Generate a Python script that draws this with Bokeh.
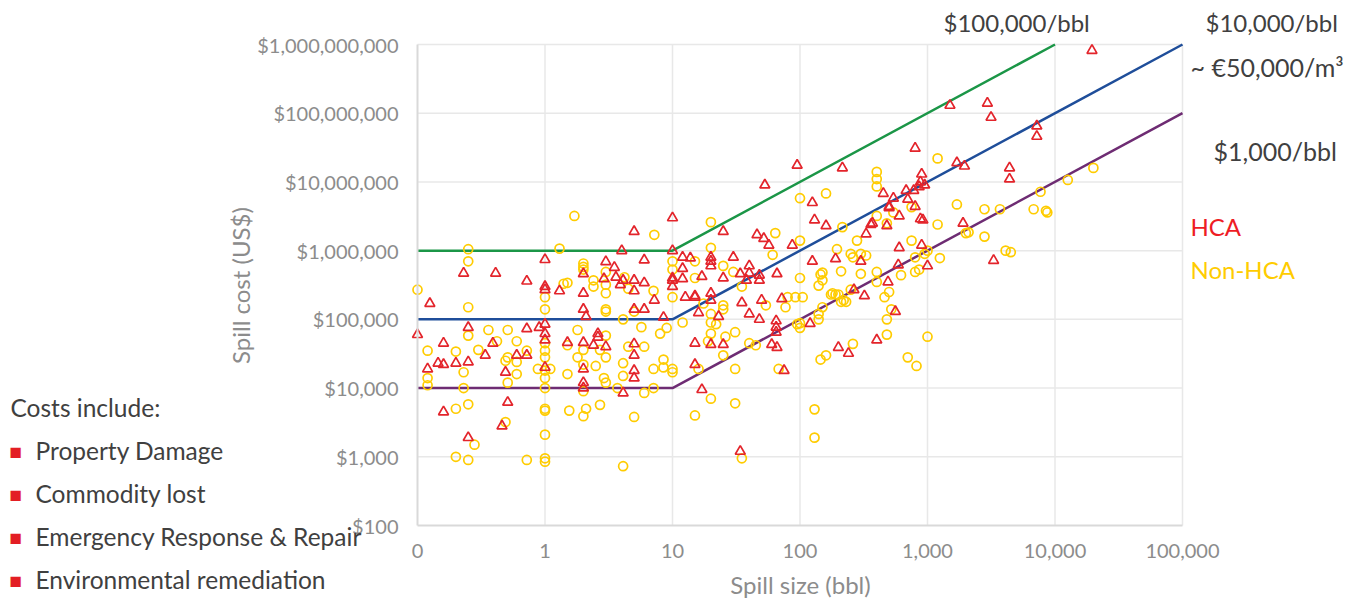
import math
from bokeh.plotting import figure
from bokeh.models import Label, FixedTicker, NumeralTickFormatter
from bokeh.embed import file_html
from bokeh.resources import INLINE

# ---------------- data ----------------
# HCA spills (red triangles): spill size (bbl) and cost (US$)
hca_size_a = [0.23, 0.41, 0.72, 1, 1, 1, 0.125, 0.25, 0.72, 0.9, 1, 0.1, 1, 1, 0.16, 0.39, 0.34, 0.6, 0.72, 0.145,
              0.16, 0.2, 0.25, 0.12, 0.49, 1, 0.51, 0.16, 0.46, 0.25]
hca_cost_a = [4.7e5, 4.7e5, 3.6e5, 7.4e5, 3e5, 2.7e5, 1.7e5, 7.6e4, 7.3e4, 7.6e4, 8.5e4, 6e4, 6.2e4, 5e4, 4.5e4, 4.5e4,
              3e4, 3e4, 3e4, 2.3e4, 2.2e4, 2.3e4, 2.4e4, 1.9e4, 1.7e4, 2e4, 6.2e3, 4.5e3, 2.8e3, 1.9e3]
hca_size_b = [10, 5, 4, 10, 3, 6, 3.5, 2, 3.6, 2.9, 4.1, 5, 6, 3.9, 1.3, 5, 2, 7.2, 2, 2.1, 5, 6, 8.5, 10, 10, 10, 1.5,
              2.6, 2.6, 2, 2.4, 3, 2, 5, 5, 5, 5, 2, 2, 4.1]
hca_cost_b = [3e6, 1.9e6, 1e6, 1e6, 6.9e5, 7.3e5, 5.7e5, 4.6e5, 4.1e5, 3.9e5, 3.7e5, 3.7e5, 3.4e5, 3.2e5, 2.6e5, 2.6e5,
              2.4e5, 1.9e5, 1.4e5, 1.1e5, 1.4e5, 1.4e5, 1.07e5, 4e5, 3.7e5, 3e5, 4.6e4, 6.2e4, 5.5e4, 4.6e4, 4.2e4, 4e4,
              1.9e4, 4.4e4, 3e4, 1.8e4, 1.4e4, 1.2e4, 1e4, 8.5e3]
hca_size_c = [12, 13.8, 12, 12, 12.6, 15, 15, 15, 95, 53, 125, 130, 160, 25, 46, 52, 57, 87, 20, 20, 20, 30, 40, 34, 40,
              48, 38, 48, 66, 17, 25, 125, 190, 20, 20, 15, 16, 23, 35, 50, 72, 40, 48, 65, 65, 65, 120, 20, 25, 60, 66,
              75, 17, 34]
hca_cost_c = [8e5, 7.8e5, 5.5e5, 3.9e5, 2.1e5, 2.1e5, 4.5e4, 2.2e4, 1.75e7, 9e6, 5e6, 2.8e6, 2.3e6, 1.9e6, 1.7e6, 1.5e6,
              1.2e6, 1.2e6, 8e5, 7e5, 6e5, 8e5, 6e5, 4.6e5, 4.7e5, 4.4e5, 3.7e5, 3.7e5, 4.6e5, 4.2e5, 4e5, 7e5, 7.6e5,
              2.4e5, 1.9e5, 2.2e5, 1.25e5, 1.1e5, 1.75e5, 1.9e5, 2e5, 1.2e5, 1e5, 9.5e4, 7.7e4, 6.5e4, 8.7e4, 4.3e4,
              4.3e4, 4.3e4, 3.9e4, 1.8e4, 9.5e3, 1.2e3]
hca_size_d = [1500, 800, 1700, 1950, 215, 900, 880, 860, 950, 680, 780, 450, 540, 700, 500, 500, 800, 600, 880, 920, 370,
              360, 480, 1900, 330, 600, 900, 300, 590, 1000, 490, 265, 320, 560, 3300, 400, 200, 240, 2950, 3150, 7200,
              7200, 4400, 4400, 19500]
hca_cost_d = [1.3e8, 3.1e7, 1.9e7, 1.7e7, 1.6e7, 1.3e7, 1e7, 8.5e6, 9e6, 7.5e6, 7.5e6, 6.8e6, 5.8e6, 5.6e6, 4.4e6, 4.2e6,
              4.4e6, 3.2e6, 2.9e6, 2.8e6, 2.5e6, 2.4e6, 2.3e6, 2.5e6, 1.75e6, 1.1e6, 1.2e6, 7e5, 6.2e5, 6e5, 3.5e5, 2.7e5,
              2.2e5, 1.3e5, 7.2e5, 5e4, 3.9e4, 3.2e4, 1.4e8, 8.7e7, 6.5e7, 4.6e7, 1.6e7, 1.1e7, 8.2e8]

# Non-HCA spills (yellow circles)
non_size_a = [0.25, 0.25, 0.1, 1, 1, 0.25, 0.36, 0.51, 0.25, 0.12, 0.2, 0.3, 0.42, 0.6, 0.72, 0.51, 0.49, 0.6, 0.23, 0.6,
              0.12, 0.51, 0.12, 0.23, 0.88, 1, 1, 1, 1, 1, 1, 1.1, 0.25, 0.2, 1, 1, 0.49, 1, 0.28, 0.2, 0.25, 0.72, 1, 1]
non_cost_a = [1.05e6, 7e5, 2.7e5, 2.1e5, 1.4e5, 1.5e5, 7e4, 7e4, 5.8e4, 3.5e4, 3.4e4, 3.6e4, 4.8e4, 4.8e4, 3.5e4, 2.8e4,
              2.5e4, 2.4e4, 1.7e4, 1.6e4, 1.4e4, 1.2e4, 1.1e4, 1e4, 1.9e4, 4.5e4, 3.5e4, 2.8e4, 1.8e4, 1.4e4, 1e4, 1.9e4,
              5.8e3, 5e3, 5e3, 4.7e3, 3.2e3, 2.1e3, 1.5e3, 1e3, 900, 900, 950, 850]
non_size_b = [1.3, 1.7, 7.2, 2, 2, 2, 3, 4.2, 2.4, 1.4, 1.5, 2.4, 3, 4.5, 7.1, 3, 3, 3, 5, 4.1, 10, 10, 10, 1.8, 1.5, 2,
              2.7, 3, 3, 1.8, 2, 2.5, 1.5, 4.5, 6, 4.1, 4.1, 3, 2, 3.7, 6, 7.1, 7.1, 8.5, 8.5, 10, 10, 8, 9, 5.7, 1.55,
              2, 2.1, 2.7, 5, 4.1, 2.9]
non_cost_b = [1.07e6, 3.2e6, 1.7e6, 6.5e5, 5.8e5, 5.3e5, 4.9e5, 4.1e5, 3.7e5, 3.3e5, 3.4e5, 3e5, 3.2e5, 2.8e5, 2.6e5,
              2.4e5, 1.4e5, 1.3e5, 1.3e5, 1e5, 7e5, 5.3e5, 2.1e5, 7e4, 4.2e4, 3.6e4, 3.6e4, 5.8e4, 2.8e4, 2.8e4, 2.2e4,
              2.1e4, 1.6e4, 4e4, 4e4, 2.3e4, 1.5e4, 1.2e4, 9e3, 1e4, 8.5e3, 1e4, 1.9e4, 2.6e4, 2e4, 1.9e4, 1.7e4, 6.2e4,
              7.5e4, 7.7e4, 4.7e3, 3.9e3, 5e3, 5.7e3, 3.8e3, 730, 1.4e4]
non_size_c = [12, 15, 160, 100, 20, 64, 100, 61, 20, 25, 30, 35, 140, 100, 145, 150, 195, 150, 15, 15, 17.5, 25, 25, 54,
              80, 92, 105, 77, 175, 190, 150, 140, 95, 100, 20, 20, 20, 22, 31, 26, 19, 40, 45, 31, 31, 20, 68, 25, 16,
              35, 130, 130, 145, 160, 100]
non_cost_c = [9e4, 4e3, 6.8e6, 5.8e6, 2.6e6, 1.8e6, 1.4e6, 8.7e5, 1.1e6, 6e5, 4.9e5, 3e5, 3.1e5, 4e5, 4.5e5, 3.7e5,
              1.05e6, 4.8e5, 4e5, 7e5, 1.7e5, 1.6e5, 1.4e5, 1.6e5, 2.1e5, 2.1e5, 2.1e5, 1.5e5, 2.3e5, 2.3e5, 1.5e5,
              1.2e5, 8.5e4, 7.5e4, 1.2e5, 9e4, 6.2e4, 8.5e4, 6.5e4, 5.6e4, 4.8e4, 4.5e4, 4.2e4, 1.9e4, 6e3, 7e3, 1.9e4,
              3e4, 1.9e4, 950, 4.9e3, 1.9e3, 2.6e4, 3e4, 8.8e4]
non_size_d = [1200, 400, 400, 400, 750, 1700, 400, 540, 480, 1200, 2000, 2100, 215, 280, 750, 250, 260, 300, 330, 800,
              950, 1000, 1250, 800, 860, 210, 300, 400, 400, 620, 500, 460, 180, 200, 210, 230, 220, 520, 480, 140, 4500,
              1000, 700, 820, 480, 260, 20000, 12600, 7700, 2800, 3700, 6800, 8500, 8700, 2800, 4100, 250]
non_cost_d = [2.2e7, 1.4e7, 1.1e7, 8.6e6, 4.3e6, 4.7e6, 3.2e6, 3.6e6, 2.5e6, 2.4e6, 1.8e6, 1.85e6, 2.2e6, 1.4e6, 1.4e6,
              9e5, 8e5, 9e5, 8.5e5, 8e5, 9e5, 1e6, 7.8e5, 4.9e5, 5.3e5, 5e5, 4.6e5, 4.9e5, 3.5e5, 4.4e5, 2.5e5, 2.1e5,
              2.4e5, 2.3e5, 1.8e5, 1.8e5, 1.9e5, 1.4e5, 1e5, 1e5, 9.5e5, 5.6e4, 2.8e4, 2.1e4, 6e4, 4.4e4, 1.6e7,
              1.07e7, 7.2e6, 4e6, 4e6, 4e6, 3.8e6, 3.6e6, 1.6e6, 1e6, 2.7e5]

# reference cost lines: $100,000/bbl, $10,000/bbl, $1,000/bbl (flat floor below 10 bbl)
green_x = [0.1, 10, 10000]
green_y = [1e6, 1e6, 1e9]
blue_x = [0.1, 10, 100000]
blue_y = [1e5, 1e5, 1e9]
purple_x = [0.1, 10, 100000]
purple_y = [1e4, 1e4, 1e8]

x_ticks = [0.1, 1, 10, 100, 1000, 10000, 100000]
y_ticks = [1e2, 1e3, 1e4, 1e5, 1e6, 1e7, 1e8, 1e9]

hca_size = hca_size_a + hca_size_b + hca_size_c + hca_size_d
hca_cost = hca_cost_a + hca_cost_b + hca_cost_c + hca_cost_d
non_size = non_size_a + non_size_b + non_size_c + non_size_d
non_cost = non_cost_a + non_cost_b + non_cost_c + non_cost_d

# ---------------- layout geometry ----------------
FONT = "Lato"
GRAY = "#8c8c8c"
DARK = "#404040"
RED = "#e3242b"
YELLOW = "#ffcc00"
GRID = "#e8e8e8"

W, H = 1363, 601
FL, FR, FT, FB = 417, 1182, 44, 525      # where the chart box sits on the canvas (px)
X0, X1, Y0, Y1 = 0.1, 100000, 100, 1e9   # chart box data limits

# the frame spans the whole canvas; extend the log ranges so the chart box lands at FL..FR / FT..FB
lx0, lx1 = math.log10(X0), math.log10(X1)
ly0, ly1 = math.log10(Y0), math.log10(Y1)
kx = (lx1 - lx0) / (FR - FL)
ky = (ly1 - ly0) / (FB - FT)
xr = (10 ** (lx0 - FL * kx), 10 ** (lx1 + (W - FR) * kx))
yr = (10 ** (ly0 - (H - FB) * ky), 10 ** (ly1 + FT * ky))

p = figure(width=W, height=H, x_axis_type="log", y_axis_type="log",
           x_range=xr, y_range=yr, min_border=0,
           output_backend="svg", toolbar_location=None)
p.background_fill_color = "white"
p.border_fill_color = "white"
p.outline_line_color = None
p.xgrid.visible = False
p.ygrid.visible = False

# axes pinned to the chart box
p.xaxis.fixed_location = Y0
p.xaxis.bounds = (X0, X1)
p.yaxis.fixed_location = X0
p.yaxis.bounds = (Y0, Y1)
p.xaxis.ticker = FixedTicker(ticks=x_ticks)
p.yaxis.ticker = FixedTicker(ticks=y_ticks)
p.xaxis.formatter = NumeralTickFormatter(format="0,0")
p.yaxis.formatter = NumeralTickFormatter(format="$0,0")

for ax in (p.xaxis, p.yaxis):
    ax.major_tick_line_color = None
    ax.minor_tick_line_color = None
    ax.major_tick_out = 0
    ax.major_tick_in = 0
    ax.axis_line_color = "#d9d9d9"
    ax.axis_line_width = 2
    ax.major_label_text_font = FONT
    ax.major_label_text_font_size = "20px"
    ax.major_label_text_color = GRAY
p.yaxis.major_label_standoff = 19
p.xaxis.major_label_standoff = 18

# gridlines at the tick values, limited to the chart box
p.segment(x0=x_ticks[1:], y0=[Y0] * (len(x_ticks) - 1), x1=x_ticks[1:], y1=[Y1] * (len(x_ticks) - 1),
          line_color=GRID, line_width=1.5)
p.segment(x0=[X0] * (len(y_ticks) - 1), y0=y_ticks[1:], x1=[X1] * (len(y_ticks) - 1), y1=y_ticks[1:],
          line_color=GRID, line_width=1.5)

# reference lines
p.line(green_x, green_y, line_color="#1b9647", line_width=2.5)
p.line(blue_x, blue_y, line_color="#1f4e9a", line_width=2.5)
p.line(purple_x, purple_y, line_color="#6e2c73", line_width=2.5)

# scatter
p.scatter(non_size, non_cost, marker="circle", size=9, fill_color=None,
          line_color=YELLOW, line_width=1.7)
p.scatter(hca_size, hca_cost, marker="triangle", size=10, fill_color=None,
          line_color=RED, line_width=1.7)


def lab(px, py, text, size, color, align="left", angle=0.0):
    # screen units: offsets from the frame's bottom-left corner (= canvas bottom-left)
    p.add_layout(Label(x=px, y=H - py, x_units="screen", y_units="screen", text=text,
                       text_font=FONT, text_font_size=size, text_color=color,
                       text_align=align, text_baseline="middle", angle=angle))


# axis titles
lab(240, 285, "Spill cost (US$)", "24px", GRAY, "center", math.pi / 2)
lab(800, 584, "Spill size (bbl)", "24px", GRAY, "center")

# left note
lab(10, 407, "Costs include:", "24.5px", DARK)
items = ["Property Damage", "Commodity lost", "Emergency Response & Repair", "Environmental remediation"]
rows = [450, 493, 536, 579]
for t, py in zip(items, rows):
    lab(9, py, "\u25a0", "21px", "#e31e24")
    lab(35, py, t, "24.5px", DARK)

# right annotations
lab(943, 22, "$100,000/bbl", "24px", DARK)
lab(1205, 22, "$10,000/bbl", "24px", DARK)
lab(1190, 66, "~ \u20ac50,000/m\u00b3", "25px", DARK)
lab(1213, 150, "$1,000/bbl", "25px", DARK)
lab(1190, 226, "HCA", "24px", "#ee1c25")
lab(1190, 269, "Non-HCA", "24px", YELLOW)

open("out.html", "w").write(file_html(p, INLINE))
